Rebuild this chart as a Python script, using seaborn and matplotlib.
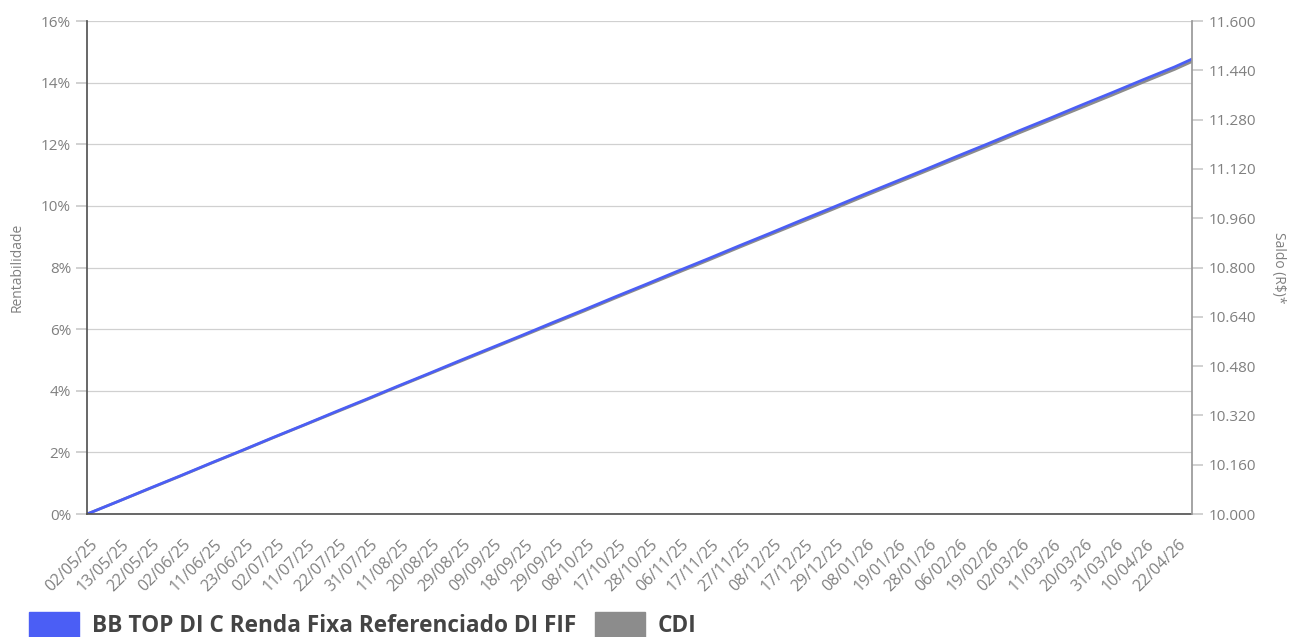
import pandas as pd
import matplotlib.pyplot as plt
import seaborn as sns
from matplotlib.patches import Patch
from matplotlib.ticker import FuncFormatter
from matplotlib.transforms import ScaledTranslation

# datas exibidas no eixo x (a cada 7 dias úteis)
tick_labels = ['02/05/25', '13/05/25', '22/05/25', '02/06/25', '11/06/25', '23/06/25',
               '02/07/25', '11/07/25', '22/07/25', '31/07/25', '11/08/25', '20/08/25',
               '29/08/25', '09/09/25', '18/09/25', '29/09/25', '08/10/25', '17/10/25',
               '28/10/25', '06/11/25', '17/11/25', '27/11/25', '08/12/25', '17/12/25',
               '29/12/25', '08/01/26', '19/01/26', '28/01/26', '06/02/26', '19/02/26',
               '02/03/26', '11/03/26', '20/03/26', '31/03/26', '10/04/26', '22/04/26']
day_index = [i * 7 for i in range(len(tick_labels))] + [249]

fund_values = [0, 0.41, 0.83, 1.24, 1.66, 2.07, 2.49, 2.90, 3.32, 3.73, 4.15, 4.56,
               4.98, 5.39, 5.80, 6.22, 6.63, 7.05, 7.46, 7.88, 8.29, 8.71, 9.12, 9.54,
               9.95, 10.37, 10.78, 11.19, 11.61, 12.02, 12.44, 12.85, 13.27, 13.68,
               14.10, 14.51, 14.77]
cdi_values = [0, 0.41, 0.82, 1.23, 1.65, 2.06, 2.48, 2.89, 3.30, 3.71, 4.13, 4.54,
              4.95, 5.36, 5.77, 6.18, 6.59, 7.01, 7.42, 7.83, 8.24, 8.66, 9.07, 9.48,
              9.89, 10.31, 10.72, 11.13, 11.54, 11.95, 12.37, 12.78, 13.19, 13.60,
              14.02, 14.43, 14.69]

df = pd.DataFrame({'dia': day_index, 'Fundo': fund_values, 'CDI': cdi_values})

sns.set_theme(style='white')
plt.rcParams['font.family'] = ['Open Sans', 'DejaVu Sans']

blue = '#4B5EF5'
gray = '#8C8C8C'
txt = '#808080'

fig, ax = plt.subplots(figsize=(12.89, 6.37), dpi=100)
fig.subplots_adjust(left=0.0675, right=0.925, top=0.967, bottom=0.193)

sns.lineplot(data=df, x='dia', y='CDI', ax=ax, color=gray, linewidth=2)
sns.lineplot(data=df, x='dia', y='Fundo', ax=ax, color=blue, linewidth=2)

ax.set_xlim(0, 249)
ax.set_ylim(0, 16)
ax.set_yticks(range(0, 17, 2))
ax.yaxis.set_major_formatter(FuncFormatter(lambda v, p: f'{int(v)}%'))
ax.set_xticks(day_index[:-1])
ax.set_xticklabels(tick_labels, rotation=45, ha='right', rotation_mode='anchor',
                   fontsize=11.5, color=txt)
ax.tick_params(axis='x', length=0, pad=16)
offset = ScaledTranslation(0.03, 0, fig.dpi_scale_trans)
for lbl in ax.get_xticklabels():
    lbl.set_transform(lbl.get_transform() + offset)
ax.tick_params(axis='y', length=8, color='#cccccc', labelsize=11, labelcolor=txt, left=True)
ax.grid(axis='y', color='#d0d0d0', linewidth=0.9)
ax.set_xlabel('')
ax.set_ylabel('Rentabilidade', fontsize=10, color=txt, labelpad=12)

ax.spines['top'].set_visible(False)
ax.spines['right'].set_visible(False)
ax.spines['left'].set_color('#555555')
ax.spines['bottom'].set_color('#555555')

ax2 = ax.twinx()
ax2.set_ylim(10000, 11600)
ax2.set_yticks(range(10000, 11601, 160))
ax2.yaxis.set_major_formatter(FuncFormatter(lambda v, p: f'{int(v):,}'.replace(',', '.')))
ax2.tick_params(axis='y', length=8, color='#cccccc', labelsize=11, labelcolor=txt, right=True)
ax2.set_ylabel('Saldo (R$)*', fontsize=10, color=txt, rotation=270, labelpad=22)
ax2.grid(False)
for s in ['top', 'left', 'bottom']:
    ax2.spines[s].set_visible(False)
ax2.spines['right'].set_color('#999999')

handles = [Patch(color=blue), Patch(color=gray)]
fig.legend(handles, ['BB TOP DI C Renda Fixa Referenciado DI FIF', 'CDI'],
           loc='lower left', bbox_to_anchor=(0.007, -0.034), ncol=2, frameon=False,
           handlelength=2.2, handleheight=1.3, handletextpad=0.55, columnspacing=0.85,
           prop={'weight': 'bold', 'size': 16.3}, labelcolor='#444444')

fig.savefig('out.png', dpi=100)
